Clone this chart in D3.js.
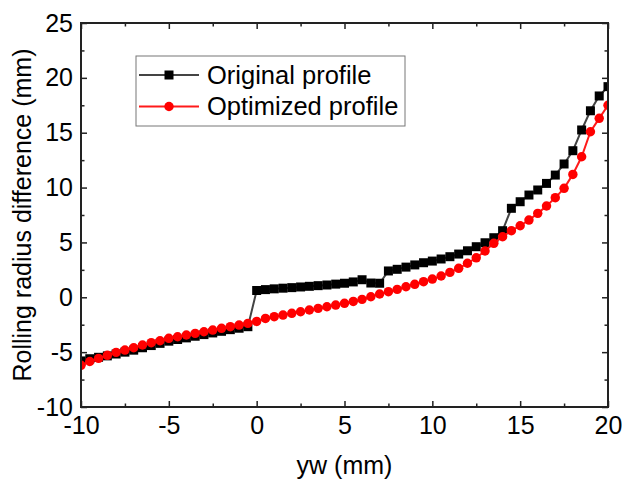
<!DOCTYPE html>
<html>
<head>
<meta charset="utf-8">
<script src="https://cdn.jsdelivr.net/npm/d3@7"></script>
<style>
  body { margin: 0; background: #fff; }
  text { font-family: 'Liberation Sans', Arial, sans-serif; }
</style>
</head>
<body>
<div id="vis"></div>
<script>
// yw positions (mm)
const yw = [-10, -9.5, -9, -8.5, -8, -7.5, -7, -6.5, -6, -5.5, -5, -4.5, -4, -3.5, -3, -2.5, -2, -1.5, -1, -0.5,
  0, 0.5, 1, 1.5, 2, 2.5, 3, 3.5, 4, 4.5, 5, 5.5, 6, 6.5, 7, 7.5, 8, 8.5, 9, 9.5,
  10, 10.5, 11, 11.5, 12, 12.5, 13, 13.5, 14, 14.5, 15, 15.5, 16, 16.5, 17, 17.5, 18, 18.5, 19, 19.5, 20]

// rolling radius difference (mm)
const original = [-5.8, -5.6, -5.47, -5.34, -5.17, -5.0, -4.82, -4.6, -4.4, -4.2, -4.0, -3.85, -3.7, -3.55, -3.4, -3.25, -3.1, -2.95, -2.82, -2.68,
  0.62, 0.7, 0.77, 0.83, 0.88, 0.94, 1.0, 1.06, 1.12, 1.2, 1.28, 1.4, 1.6, 1.3, 1.28, 2.4, 2.55, 2.75, 2.95, 3.15,
  3.3, 3.49, 3.7, 3.94, 4.24, 4.61, 4.97, 5.43, 6.07, 8.11, 8.71, 9.32, 9.78, 10.38, 11.14, 12.15, 13.36, 15.25, 17.0, 18.35, 19.2]

const optimized = [-6.2, -5.85, -5.57, -5.29, -5.02, -4.81, -4.6, -4.35, -4.14, -3.96, -3.74, -3.6, -3.44, -3.29, -3.14, -2.99, -2.83, -2.68, -2.53, -2.38,
  -2.2, -1.93, -1.77, -1.62, -1.46, -1.32, -1.16, -1.01, -0.86, -0.71, -0.55, -0.38, -0.19, 0.05, 0.3, 0.51, 0.72, 0.96, 1.18, 1.42,
  1.66, 1.94, 2.27, 2.64, 3.1, 3.6, 4.22, 4.92, 5.52, 6.07, 6.52, 7.04, 7.65, 8.32, 9.08, 9.93, 11.2, 12.81, 15.09, 16.31, 17.5]

const seriesNames = ['Original profile', 'Optimized profile']
const xTicks = [-10, -5, 0, 5, 10, 15, 20]
const yTicks = [-10, -5, 0, 5, 10, 15, 20, 25]

const W = 622, H = 486
const m = { left: 81, right: 14, top: 23, bottom: 79 }
const iw = W - m.left - m.right, ih = H - m.top - m.bottom

const x = d3.scaleLinear().domain([-10, 20]).range([0, iw])
const y = d3.scaleLinear().domain([-10, 25]).range([ih, 0])

const svg = d3.select('#vis').append('svg').attr('width', W).attr('height', H)
const g = svg.append('g').attr('transform', 'translate(' + m.left + ',' + m.top + ')')

g.append('clipPath').attr('id', 'clip')
  .append('rect').attr('width', iw).attr('height', ih)

// minor ticks every 2.5
const xMinor = d3.range(-7.5, 20, 5)
const yMinor = d3.range(-7.5, 25, 5)

// plain hyphen minus, like the original figure
const fmt = function (d) { return String(d) }

function styleAxis(sel) {
  sel.select('.domain').remove()
  sel.selectAll('line').attr('stroke', '#222').attr('stroke-width', 1.5)
  sel.selectAll('text').attr('fill', '#000').style('font-size', '25px')
}

g.append('g').attr('transform', 'translate(0,' + ih + ')')
  .call(d3.axisBottom(x).tickValues(xTicks).tickSize(-6).tickPadding(9).tickFormat(fmt))
  .call(styleAxis)
g.append('g')
  .call(d3.axisTop(x).tickValues(xTicks).tickSize(-6).tickFormat(''))
  .call(styleAxis)
g.append('g')
  .call(d3.axisLeft(y).tickValues(yTicks).tickSize(-6).tickPadding(8).tickFormat(fmt))
  .call(styleAxis)
g.append('g').attr('transform', 'translate(' + iw + ',0)')
  .call(d3.axisRight(y).tickValues(yTicks).tickSize(-6).tickFormat(''))
  .call(styleAxis)

// minor ticks
g.append('g').attr('transform', 'translate(0,' + ih + ')')
  .call(d3.axisBottom(x).tickValues(xMinor).tickSize(-3.5).tickFormat('')).call(styleAxis)
g.append('g')
  .call(d3.axisTop(x).tickValues(xMinor).tickSize(-3.5).tickFormat('')).call(styleAxis)
g.append('g')
  .call(d3.axisLeft(y).tickValues(yMinor).tickSize(-3.5).tickFormat('')).call(styleAxis)
g.append('g').attr('transform', 'translate(' + iw + ',0)')
  .call(d3.axisRight(y).tickValues(yMinor).tickSize(-3.5).tickFormat('')).call(styleAxis)

const series = [
  { name: seriesNames[0], vals: original, line: '#444', fill: '#000', shape: d3.symbolSquare, size: 81 },
  { name: seriesNames[1], vals: optimized, line: '#ff1a1a', fill: '#ff0000', shape: d3.symbolCircle, size: 70 }
]

const line = d3.line().x(function (d) { return x(d[0]) }).y(function (d) { return y(d[1]) })
const plot = g.append('g').attr('clip-path', 'url(#clip)')

series.forEach(function (s) {
  const pts = yw.map(function (v, i) { return [v, s.vals[i]] })
  plot.append('path').datum(pts)
    .attr('d', line).attr('fill', 'none')
    .attr('stroke', s.line).attr('stroke-width', 2)
  plot.selectAll(null).data(pts).enter().append('path')
    .attr('d', d3.symbol().type(s.shape).size(s.size))
    .attr('transform', function (d) { return 'translate(' + x(d[0]) + ',' + y(d[1]) + ')' })
    .attr('fill', s.fill)
})

// frame
g.append('rect').attr('width', iw).attr('height', ih)
  .attr('fill', 'none').attr('stroke', '#222').attr('stroke-width', 2)

// axis titles
svg.append('text')
  .attr('x', m.left + iw / 2).attr('y', 474)
  .attr('text-anchor', 'middle').style('font-size', '25px')
  .text('yw (mm)')
svg.append('text')
  .attr('transform', 'translate(31,' + (m.top + ih / 2) + ')rotate(-90)')
  .attr('text-anchor', 'middle').style('font-size', '25px')
  .text('Rolling radius difference (mm)')

// legend
const lg = svg.append('g').attr('transform', 'translate(136,56)')
lg.append('rect').attr('width', 269).attr('height', 70)
  .attr('fill', '#fff').attr('stroke', '#777').attr('stroke-width', 1)
series.forEach(function (s, i) {
  const cy = 19 + i * 31.5
  lg.append('line').attr('x1', 3).attr('x2', 63).attr('y1', cy).attr('y2', cy)
    .attr('stroke', s.line).attr('stroke-width', 2)
  lg.append('path')
    .attr('d', d3.symbol().type(s.shape).size(s.size))
    .attr('transform', 'translate(33,' + cy + ')').attr('fill', s.fill)
  lg.append('text').attr('x', 71).attr('y', cy).attr('dy', '0.35em')
    .style('font-size', '25.5px').text(s.name)
})
</script>
</body>
</html>
